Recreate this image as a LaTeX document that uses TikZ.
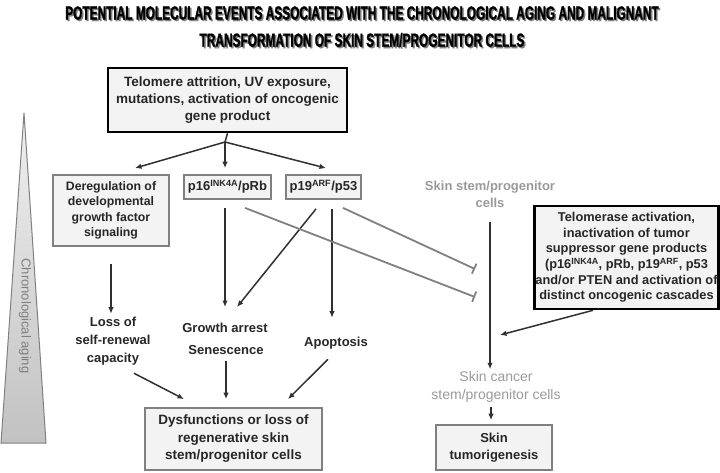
\documentclass[tikz,border=0pt]{standalone}
\usepackage{fontspec}
\setmainfont{Liberation Sans}
\newfontfamily\titlefont[FakeStretch=0.625,FakeBold=1.2]{Liberation Sans}
\usetikzlibrary{arrows.meta}
\pgfdeclarelayer{bg}
\pgfsetlayers{bg,main}
\definecolor{boxfill}{HTML}{F3F3F3}
\definecolor{boxline}{HTML}{808080}
\definecolor{fainttext}{HTML}{9A9A9A}
\definecolor{arrowink}{HTML}{303030}
\tikzset{
  titletext/.style={font=\titlefont\bfseries\fontsize{19}{22}\selectfont, inner sep=0pt},
  eventbox/.style={draw=black, line width=2.6pt, fill=boxfill, align=center, inner sep=1pt,
    font=\bfseries\fontsize{13.5}{17}\selectfont, text=black!85},
  outcomebox/.style={draw=boxline, line width=1.8pt, fill=boxfill, align=center, inner sep=1pt,
    font=\bfseries\fontsize{13}{17}\selectfont, text=black!85},
  plaintext/.style={align=center, inner sep=1pt, font=\bfseries\fontsize{13}{18}\selectfont, text=black!85},
  grayplain/.style={align=center, inner sep=1pt, font=\bfseries\fontsize{13}{17}\selectfont, text=fainttext},
  flow/.style={draw=arrowink, line width=1.5pt, -{Latex[length=6.5pt,width=5.5pt]}},
  blocker/.style={draw=boxline, line width=1.8pt, -{Bar[width=11pt,line width=1.8pt]}},
}
\begin{document}
\begin{tikzpicture}[x=1pt,y=-1pt]
        \useasboundingbox (0,0) rectangle (720,472);
        % title
        \node (titleAshade) [titletext, text=gray] at (363.5,14.5) {POTENTIAL MOLECULAR EVENTS ASSOCIATED WITH THE CHRONOLOGICAL AGING AND MALIGNANT};
        \node (titleA) [titletext] at (362,13) {POTENTIAL MOLECULAR EVENTS ASSOCIATED WITH THE CHRONOLOGICAL AGING AND MALIGNANT};
        \node (titleBshade) [titletext, text=gray] at (363.5,41.5) {TRANSFORMATION OF SKIN STEM/PROGENITOR CELLS};
        \node (titleB) [titletext] at (362,40) {TRANSFORMATION OF SKIN STEM/PROGENITOR CELLS};
        % chronological aging wedge
        \begin{pgfonlayer}{bg}
                \draw [draw=boxline, line width=1pt, top color=gray!12, bottom color=gray!48] (24,113) -- (46,443) -- (1,443) -- cycle;
        \end{pgfonlayer}
        \node (aging) [rotate=-90, text=gray, font=\fontsize{13}{15}\selectfont] at (25,316) {Chronological aging};
        % aging branch
        \node (cause) [eventbox, minimum width=239, minimum height=64] at (227.5,100) {Telomere attrition, UV exposure,\\mutations, activation of oncogenic\\gene product};
        \coordinate (split) at (225,142);
        \node (dereg) [outcomebox, font=\bfseries\fontsize{12.3}{15.5}\selectfont, minimum width=116, minimum height=71] at (111,210.5) {Deregulation of\\developmental\\growth factor\\signaling};
        \node (pRb) [outcomebox, minimum width=87, minimum height=24] at (227.5,187) {p16\textsuperscript{INK4A}/pRb};
        \node (p53) [outcomebox, minimum width=75, minimum height=24] at (323.5,187) {p19\textsuperscript{ARF}/p53};
        \node (loss) [plaintext] at (113,341) {Loss of\\self-renewal\\capacity};
        \node (growth) [plaintext] at (225,328) {Growth arrest};
        \node (senesc) [plaintext] at (226,350) {Senescence};
        \node (apopt) [plaintext] at (336,343) {Apoptosis};
        \node (dysfn) [outcomebox, font=\bfseries\fontsize{13.5}{17.5}\selectfont, minimum width=177, minimum height=62] at (233.5,439) {Dysfunctions or loss of\\regenerative skin\\stem/progenitor cells};
        % malignant branch
        \node (stem) [grayplain] at (490,194.5) {Skin stem/progenitor\\cells};
        \node (telo) [eventbox, font=\bfseries\fontsize{12.8}{15.6}\selectfont, minimum width=181, minimum height=103] at (626.5,257.5) {Telomerase activation,\\inactivation of tumor\\suppressor gene products\\(p16\textsuperscript{INK4A}, pRb, p19\textsuperscript{ARF}, p53\\and/or PTEN and activation of\\distinct oncogenic cascades};
        \node (cancer) [grayplain, font=\fontsize{14}{18}\selectfont] at (496,387) {Skin cancer\\stem/progenitor cells};
        \node (tumor) [outcomebox, minimum width=116, minimum height=45] at (494,447.5) {Skin\\tumorigenesis};
        \coordinate (blockA) at (475,269);
        \coordinate (blockB) at (475,297);
        \coordinate (merge) at (500,335);
        \begin{pgfonlayer}{bg}
                \draw (cause.south) edge [draw=arrowink, line width=1.5pt] (split);
                \draw (split) edge [flow] ([xshift=24pt,yshift=6pt]dereg.north);
                \draw (split) edge [flow, shorten >=6pt] (split |- pRb.north);
                \draw (split) edge [flow] ([xshift=2.5pt,yshift=6pt]p53.north);
                \draw (dereg.south) edge [flow, shorten <=17pt, shorten >=2pt] (dereg.south |- loss.north);
                \draw ([xshift=-2.5pt]pRb.south) edge [flow, shorten <=8pt, shorten >=15pt] ([xshift=-2.5pt]pRb.south |- growth.north);
                \draw ([xshift=-7.5pt,yshift=-9pt]p53.south) edge [flow] ([xshift=12pt,yshift=15pt]growth.north);
                \draw ([xshift=8.5pt,yshift=-9pt]p53.south) edge [flow] ([xshift=-4pt,yshift=18pt]apopt.north);
                \draw ([xshift=17.5pt,yshift=-8pt]pRb.south) edge [blocker] (blockB);
                \draw ([xshift=19.5pt,yshift=-8pt]p53.south) edge [blocker] (blockA);
                \draw (stem.south) edge [flow, shorten <=13pt, shorten >=1pt] (stem.south |- cancer.north);
                \draw ([xshift=-33.5pt]telo.south) edge [flow] (merge);
                \draw ([xshift=-5pt]cancer.south) edge [flow, shorten <=3pt, shorten >=4pt] ([xshift=-3pt]tumor.north);
                \draw ([xshift=21pt,yshift=-7pt]loss.south) edge [flow] ([xshift=-49.5pt,yshift=8pt]dysfn.north);
                \draw (senesc.south) edge [flow, shorten <=5pt, shorten >=8pt] (senesc.south |- dysfn.north);
                \draw ([xshift=-8pt,yshift=-9pt]apopt.south) edge [flow] ([xshift=54.5pt,yshift=8pt]dysfn.north);
        \end{pgfonlayer}
\end{tikzpicture}
\end{document}
